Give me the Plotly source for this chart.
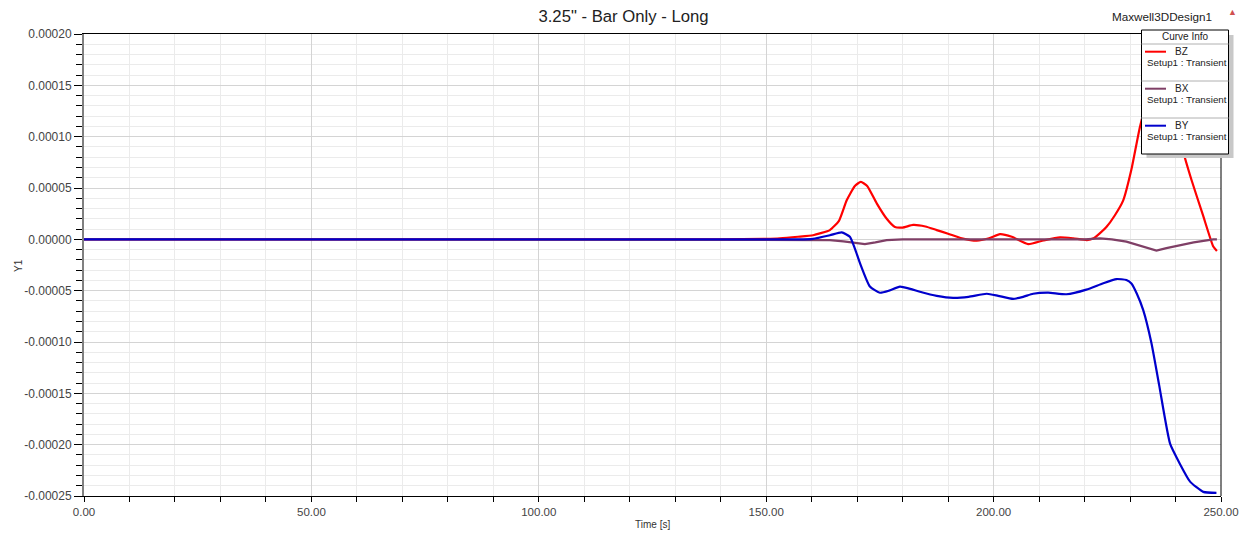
import plotly.graph_objects as go

# ---------------- data ----------------
bz_t = [0, 20, 40, 60, 80, 100, 120, 140, 150, 153, 157, 160.3, 162, 164, 166, 167.7, 169.5, 170.8, 172.2,
        174.3, 176.5, 178.3, 180, 182.3, 185, 187.5, 190, 193, 196.3, 199, 201.4, 204, 207.6, 211,
        214.6, 217.5, 220.5, 222, 223.4, 224.8, 226.6, 228.5, 230.3, 232.2, 234, 235.6, 237, 238.5,
        240, 241.6, 243.5, 246, 248.3, 249.1]
bz_v = [0, 0, 0, 0, 0, 0, 0, 0, 0.0000005, 0.000001, 0.0000025, 0.000004, 0.0000060, 0.000009, 0.000018,
        0.000038, 0.000052, 0.000056, 0.000052, 0.000035, 0.000020, 0.000012, 0.0000115, 0.000014,
        0.0000125, 0.000009, 0.0000055, 0.000001, -0.0000014, 0.000001, 0.000005, 0.0000025, -0.0000046,
        -0.000001, 0.000002, 0.000001, -0.0000007, 0.000001, 0.000006, 0.000012, 0.000023, 0.000038,
        0.000068, 0.000110, 0.000138, 0.000152, 0.000155, 0.000146, 0.000122, 0.000087, 0.000058,
        0.000024, -0.000007, -0.0000114]

bx_t = [0, 50, 100, 150, 160, 164, 167, 169.2, 171.7, 174, 176.5, 180, 190, 200, 210, 220, 223.4,
        226, 229.2, 232, 235.8, 238, 241, 244, 248.3, 249.1]
bx_v = [0, 0, 0, 0, 0, -0.0000007, -0.000002, -0.0000033, -0.0000046, -0.000003, -0.0000007, 0, 0, 0,
        0, 0, 0.000001, 0, -0.0000023, -0.000006, -0.000011, -0.0000085, -0.0000055, -0.000003, 0, 0]

by_t = [0, 50, 100, 150, 153, 157, 160.3, 164, 166.6, 168.4, 169.5, 170.6, 172.8, 175, 177, 179.4,
        181.5, 183.8, 187.5, 191.1, 194.5, 198.5, 201, 204.3, 206.5, 208.7, 212, 216, 220.4, 224,
        227, 229.2, 230.3, 231.5, 232.9, 234.7, 236.4, 238.8, 241, 243.2, 246.1, 249]
by_v = [0, 0, 0, 0, 0, 0, 0.0000005, 0.000004, 0.0000068, 0.0000025, -0.000009, -0.000023, -0.000046,
        -0.000052, -0.000050, -0.000046, -0.000048, -0.000051, -0.000055, -0.000057, -0.000056,
        -0.000053, -0.000055, -0.000058, -0.000056, -0.000053, -0.000052, -0.0000535, -0.000049,
        -0.000043, -0.0000387, -0.0000396, -0.000043, -0.000053, -0.000069, -0.000101, -0.000142,
        -0.000199, -0.000219, -0.000236, -0.000246, -0.000247]

y_ticks = [0.0002, 0.00015, 0.0001, 0.00005, 0.0, -0.00005, -0.0001, -0.00015, -0.0002, -0.00025]
y_labels = ["0.00020", "0.00015", "0.00010", "0.00005", "0.00000", "-0.00005", "-0.00010",
            "-0.00015", "-0.00020", "-0.00025"]
x_ticks = [0, 50, 100, 150, 200, 250]
x_labels = ["0.00", "50.00", "100.00", "150.00", "200.00", "250.00"]

legend_names = ["BZ", "BX", "BY"]
legend_sub = "Setup1 : Transient"
colors = {"BZ": "#FF0000", "BX": "#7F3F66", "BY": "#0000CC"}

title = "3.25\" - Bar Only - Long"
design = "Maxwell3DDesign1"
x_title = "Time [s]"
y_title = "Y1"

# ---------------- figure ----------------
W, H = 1247, 536
L, R, T, B = 84, 1221, 34, 496
FONT = "Liberation Sans, Arial, sans-serif"

def px(x):
    return (x - L) / (R - L)

def py(y):
    return (B - y) / (B - T)

fig = go.Figure()
fig.add_trace(go.Scatter(x=bz_t, y=bz_v, mode="lines", name="BZ",
                         line=dict(color=colors["BZ"], width=2.2, shape="spline", smoothing=0.5)))
fig.add_trace(go.Scatter(x=bx_t, y=bx_v, mode="lines", name="BX",
                         line=dict(color=colors["BX"], width=2.2)))
fig.add_trace(go.Scatter(x=by_t, y=by_v, mode="lines", name="BY",
                         line=dict(color=colors["BY"], width=2.2, shape="spline", smoothing=0.5)))

fig.update_layout(
    width=W, height=H,
    margin=dict(l=L, r=W - R, t=T, b=H - B, autoexpand=False),
    paper_bgcolor="white", plot_bgcolor="white",
    showlegend=False,
    font=dict(family=FONT, size=11, color="#333333"),
    title=dict(text=title, x=0.5, xanchor="center", y=1 - 16 / H, yanchor="middle",
               automargin=False,
               font=dict(family=FONT, size=16.7, color="#222222")),
)

fig.update_xaxes(
    range=[0, 250], tickvals=x_ticks, ticktext=x_labels, automargin=False,
    showgrid=True, gridcolor="#D4D4D4", gridwidth=1,
    showline=True, linecolor="#000000", linewidth=1, mirror=True,
    ticks="outside", ticklen=5, tickcolor="#000000",
    minor=dict(dtick=10, ticks="outside", ticklen=5, tickcolor="#000000",
               showgrid=True, gridcolor="#EBEBEB", gridwidth=1),
    zeroline=False,
    tickfont=dict(size=11.5, color="#444444"),
)
fig.update_yaxes(
    range=[-0.00025, 0.0002], tickvals=y_ticks, ticktext=y_labels, automargin=False,
    showgrid=True, gridcolor="#D4D4D4", gridwidth=1,
    showline=True, linecolor="#808080", linewidth=2,
    ticks="outside", ticklen=8, tickcolor="#000000",
    minor=dict(dtick=0.00001, ticks="outside", ticklen=6, tickcolor="#000000",
               showgrid=True, gridcolor="#EBEBEB", gridwidth=1),
    zeroline=False,
    tickfont=dict(size=12, color="#444444"),
)

shapes = []
# right border
shapes.append(dict(type="line", xref="paper", yref="paper", x0=1, x1=1, y0=0, y1=1,
                   line=dict(color="#000000", width=1), layer="above"))
# legend box shadow + box
bx0, bx1, by0, by1 = 1141.5, 1228.5, 30, 154
shapes.append(dict(type="rect", xref="paper", yref="paper",
                   x0=px(bx0 + 5), x1=px(bx1 + 5), y0=py(by1 + 4), y1=py(by0 + 5),
                   fillcolor="#C8C8C8", line=dict(width=0), layer="above"))
shapes.append(dict(type="rect", xref="paper", yref="paper",
                   x0=px(bx0), x1=px(bx1), y0=py(by1), y1=py(by0),
                   fillcolor="white", line=dict(color="#000000", width=1), layer="above"))
for sy in [44, 81, 118]:
    shapes.append(dict(type="line", xref="paper", yref="paper", x0=px(bx0), x1=px(bx1),
                       y0=py(sy), y1=py(sy), line=dict(color="#B0B0B0", width=1), layer="above"))

annotations = []
annotations.append(dict(text="Curve Info", xref="paper", yref="paper", x=px(1185.5), y=py(37),
                        xanchor="center", yanchor="middle", showarrow=False,
                        font=dict(family=FONT, size=10, color="#222222")))
for i, name in enumerate(legend_names):
    ly = 51.7 + 37 * i
    shapes.append(dict(type="line", xref="paper", yref="paper", x0=px(1145), x1=px(1166),
                       y0=py(ly), y1=py(ly), line=dict(color=colors[name], width=2), layer="above"))
    annotations.append(dict(text=name, xref="paper", yref="paper", x=px(1172.5), y=py(ly),
                            xanchor="left", yanchor="middle", showarrow=False,
                            font=dict(family=FONT, size=10, color="#222222")))
    annotations.append(dict(text=legend_sub, xref="paper", yref="paper", x=px(1145), y=py(ly + 10.5),
                            xanchor="left", yanchor="middle", showarrow=False,
                            font=dict(family=FONT, size=9.8, color="#222222")))

annotations.append(dict(text=design, xref="paper", yref="paper", x=px(1162), y=py(16),
                        xanchor="center", yanchor="middle", showarrow=False,
                        font=dict(family=FONT, size=11.7, color="#222222")))
annotations.append(dict(text="▲", xref="paper", yref="paper", x=px(1232), y=py(12),
                        xanchor="center", yanchor="middle", showarrow=False,
                        font=dict(family=FONT, size=9, color="#D05050")))
# axis titles
annotations.append(dict(text=x_title, xref="paper", yref="paper", x=px(652), y=py(524),
                        xanchor="center", yanchor="middle", showarrow=False,
                        font=dict(family=FONT, size=10, color="#333333")))
annotations.append(dict(text=y_title, xref="paper", yref="paper", x=px(18), y=py(266),
                        xanchor="center", yanchor="middle", showarrow=False, textangle=-90,
                        font=dict(family=FONT, size=10, color="#333333")))

fig.update_layout(shapes=shapes, annotations=annotations)
fig.write_html("out.html",
               config={"displayModeBar": False},
               post_script="document.body.style.margin='0';document.body.style.padding='0';"
                           "document.body.style.overflow='hidden';")
